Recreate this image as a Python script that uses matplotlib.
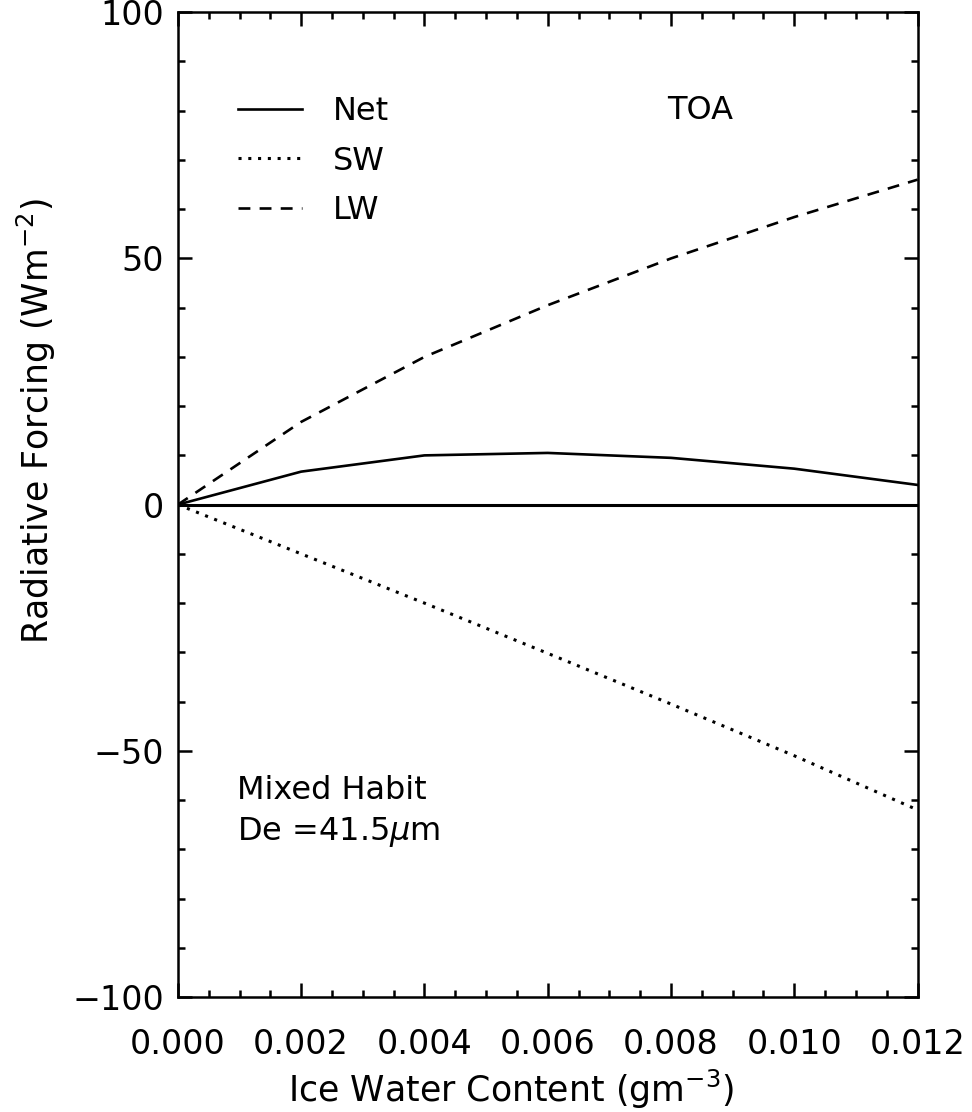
import numpy as np
import matplotlib.pyplot as plt
from matplotlib.ticker import MultipleLocator
from matplotlib.lines import Line2D

# values
iwc = [0.0, 0.002, 0.004, 0.006, 0.008, 0.010, 0.012]
net = [0.0, 6.7, 10.0, 10.5, 9.5, 7.3, 4.0]
sw = [0.0, -10.0, -20.0, -30.2, -40.5, -51.0, -62.0]
lw = [0.0, 16.8, 30.0, 40.5, 50.0, 58.4, 66.0]

plt.rcParams['font.family'] = 'DejaVu Sans'

fig = plt.figure(figsize=(9.72, 11.12), dpi=100)
ax = fig.add_axes([0.183, 0.1034, 0.761, 0.8856])

ax.plot(iwc, net, color='black', lw=1.9, linestyle='-')
ax.plot(iwc, sw, color='black', lw=2.2, linestyle=(0, (1, 2.2)))
ax.plot(iwc, lw, color='black', lw=1.9, linestyle=(0, (4.5, 3.5)))
ax.axhline(0, color='black', lw=2.2)

ax.set_xlim(0, 0.012)
ax.set_ylim(-100, 100)
ax.xaxis.set_major_locator(MultipleLocator(0.002))
ax.xaxis.set_minor_locator(MultipleLocator(0.0005))
ax.yaxis.set_major_locator(MultipleLocator(50))
ax.yaxis.set_minor_locator(MultipleLocator(10))
ax.xaxis.set_major_formatter(plt.FuncFormatter(lambda v, p: '%.3f' % v))
ax.yaxis.set_major_formatter(plt.FuncFormatter(lambda v, p: ('%d' % v).replace('-', '\u2212')))
ax.tick_params(which='both', direction='in', top=True, right=True, width=1.8, labelsize=24)
ax.tick_params(axis='y', which='major', length=10, pad=10)
ax.tick_params(axis='x', which='major', length=10, pad=22)
ax.tick_params(which='minor', length=5)
for s in ax.spines.values():
    s.set_linewidth(1.8)

ax.set_xlabel('Ice Water Content (gm$^{-3}$)', fontsize=25)
ax.set_ylabel('Radiative Forcing (Wm$^{-2}$)', fontsize=25)
ax.xaxis.set_label_coords(0.45, -0.072)
ax.yaxis.set_label_coords(-0.162, 0.585)

handles = [Line2D([], [], color='black', lw=1.9, linestyle='-'),
           Line2D([], [], color='black', lw=2.2, linestyle=(0, (1, 2.2))),
           Line2D([], [], color='black', lw=1.9, linestyle=(0, (4.5, 3.5)))]
ax.legend(handles, ['Net', 'SW', 'LW'], loc='upper left', bbox_to_anchor=(0.043, 0.944),
          frameon=False, fontsize=23, handlelength=2.0, handletextpad=0.95, labelspacing=0.58)

ax.text(0.662, 0.9005, 'TOA', transform=ax.transAxes, fontsize=23, va='center')
ax.text(0.08, 0.210, 'Mixed Habit', transform=ax.transAxes, fontsize=23, va='center')
ax.text(0.08, 0.1675, 'De =41.5$\\mu$m', transform=ax.transAxes, fontsize=23, va='center')

fig.savefig('out.png', dpi=100)
